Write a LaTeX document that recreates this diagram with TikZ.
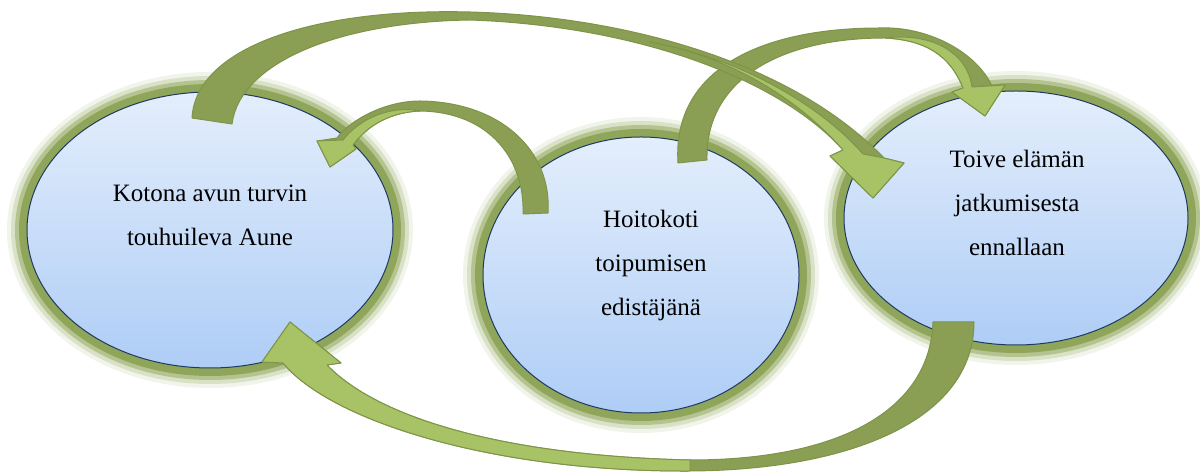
\documentclass[tikz,border=0pt]{standalone}
\usepackage{fontspec}
\setmainfont{Liberation Serif}
\usetikzlibrary{shapes.geometric}
\definecolor{bubbletop}{HTML}{E4EEFC}
\definecolor{bubblebottom}{HTML}{AECDF6}
\definecolor{bubbleline}{HTML}{1F3A60}
\definecolor{glowgreen}{HTML}{8FA65A}
\definecolor{arrowdark}{HTML}{8A9F53}
\definecolor{arrowlight}{HTML}{A8C366}
\definecolor{arrowedge}{HTML}{7E9449}

\begin{document}
\begin{tikzpicture}[x=0.5pt, y=-0.5pt]

%STYLE SETTINGS
\tikzstyle{bubble}=[ellipse, draw=bubbleline, line width=0.5pt, top color=bubbletop, bottom color=bubblebottom,
	preaction={draw=glowgreen, draw opacity=0.12, line width=20pt},
	preaction={draw=glowgreen, draw opacity=0.25, line width=16pt},
	preaction={draw=glowgreen, draw opacity=0.5, line width=12pt},
	preaction={draw=glowgreen, line width=8pt}]
\tikzstyle{bubbletext}=[align=center, font=\fontsize{12.5}{22}\selectfont]
\tikzstyle{band}=[fill=arrowdark, draw=arrowedge, line width=0.5pt, line join=round]
\tikzstyle{front}=[fill=arrowlight, draw=arrowedge, line width=0.5pt, line join=round]

\useasboundingbox (0,0) rectangle (1200,474);

%NODES
\node[bubble, minimum width=183pt, minimum height=138pt] (home) at (210,230) {};
\node[bubble, minimum width=158pt, minimum height=138pt] (care) at (641,275) {};
\node[bubble, minimum width=172pt, minimum height=127pt] (hope) at (1016,218) {};

\node[bubbletext] (homeText) at ([shift={(0,-15)}]home.center) {Kotona avun turvin\\touhuileva Aune};
\node[bubbletext] (careText) at ([shift={(10,-9.5)}]care.center) {Hoitokoti\\toipumisen\\edistäjänä};
\node[bubbletext] (hopeText) at ([shift={(1,-15.5)}]hope.center) {Toive elämän\\jatkumisesta\\ennallaan};

%ARROWS
% care -> hope
\draw[band] (678,163) .. controls (672,70) and (760,28) .. (880,28)
	.. controls (925,26) and (975,50) .. (992,86) -- (1005,85) -- (985,116) -- (952,92) -- (963,88)
	.. controls (950,55) and (925,40) .. (885,38)
	.. controls (780,38) and (705,80) .. (707,160) -- cycle;
\draw[front] (972,87) -- (1005,85) -- (985,116) -- (952,92) -- (963,88)
	.. controls (950,55) and (925,40) .. (885,38) .. controls (935,32) and (968,55) .. (972,87) -- cycle;

% home -> hope
\draw[band] (192,118) .. controls (196,45) and (320,8) .. (470,12)
	.. controls (620,16) and (790,60) .. (884,158) -- (904,163) -- (873,198) -- (830,156) -- (843,150)
	.. controls (780,80) and (640,26) .. (470,20)
	.. controls (340,22) and (240,62) .. (232,124) -- cycle;
\draw[front] (863,154) -- (884,158) -- (904,163) -- (873,198) -- (830,156) -- (843,150)
	.. controls (790,90) and (720,55) .. (650,42) .. controls (740,58) and (820,105) .. (863,154) -- cycle;

% care -> home
\draw[band] (548,213) .. controls (552,150) and (500,102) .. (420,101)
	.. controls (385,101) and (350,120) .. (337,138) -- (317,141) -- (330,167) -- (356,149) -- (353,145)
	.. controls (370,122) and (395,112) .. (420,111)
	.. controls (490,112) and (525,160) .. (523,214) -- cycle;
\draw[front] (343,140) -- (317,141) -- (330,167) -- (356,149) -- (353,145)
	.. controls (370,122) and (395,112) .. (420,111) .. controls (392,105) and (360,118) .. (343,140) -- cycle;

% hope -> home
\draw[band] (974,322) .. controls (974,420) and (850,470) .. (690,471)
	.. controls (490,472) and (330,420) .. (283,363) -- (262,362) -- (290,322) -- (341,363) -- (327,365)
	.. controls (380,420) and (510,456) .. (690,460)
	.. controls (840,460) and (930,410) .. (933,322) -- cycle;
\draw[front] (690,471) .. controls (490,472) and (330,420) .. (283,363) -- (262,362) -- (290,322) -- (341,363) -- (327,365)
	.. controls (380,420) and (510,456) .. (690,460) -- cycle;

\end{tikzpicture}
\end{document}
